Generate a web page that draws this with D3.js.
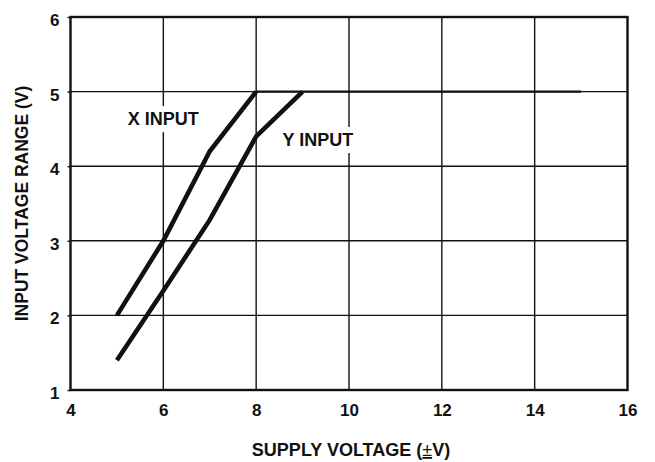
<!DOCTYPE html>
<html>
<head>
<meta charset="utf-8">
<script src="https://cdn.jsdelivr.net/npm/d3@7"></script>
<style>
  html, body { margin: 0; padding: 0; background: #fff; }
  svg { display: block; }
  text { font-family: "Liberation Sans", Arial, Helvetica, sans-serif; font-weight: bold; fill: #111; }
</style>
</head>
<body>
<svg id="chart" width="655" height="462"></svg>
<script>
// Supply voltage (±V) on x, input voltage range (V) on y
const xTicks = [4, 6, 8, 10, 12, 14, 16];
const yTicks = [1, 2, 3, 4, 5, 6];

const xInputSupply = [5, 6, 7, 8];
const xInputRange  = [2.0, 3.0, 4.2, 5.0];

const yInputSupply = [5, 6, 7, 8, 9];
const yInputRange  = [1.4, 2.33, 3.28, 4.4, 5.0];

// common ceiling once both inputs saturate
const limitSupply = [8, 15];
const limitRange  = [5.0, 5.0];

const seriesLabels = [
  { text: "X INPUT", supply: 6.0, range: 4.55 },
  { text: "Y INPUT", supply: 9.33, range: 4.27 }
];

const svg = d3.select("#chart");
const plotLeft = 70.5, plotRight = 627.5, plotTop = 17, plotBottom = 390;

const x = d3.scaleLinear().domain([4, 16]).range([plotLeft, plotRight]);
const y = d3.scaleLinear().domain([1, 6]).range([plotBottom, plotTop]);

// grid
const grid = svg.append("g").attr("stroke", "#111").attr("stroke-width", 1.4);
grid.selectAll("line.v").data(xTicks.slice(1, -1)).join("line")
  .attr("class", "v")
  .attr("x1", d => x(d)).attr("x2", d => x(d))
  .attr("y1", plotTop).attr("y2", plotBottom);
grid.selectAll("line.h").data(yTicks.slice(1, -1)).join("line")
  .attr("class", "h")
  .attr("x1", plotLeft).attr("x2", plotRight)
  .attr("y1", d => y(d)).attr("y2", d => y(d));

// label backgrounds knock out the grid
const labelG = svg.append("g");
seriesLabels.forEach(l => {
  const t = labelG.append("text")
    .attr("x", x(l.supply)).attr("y", y(l.range))
    .attr("text-anchor", "middle")
    .attr("font-size", 18)
    .text(l.text);
  const b = t.node().getBBox();
  labelG.insert("rect", "text")
    .attr("x", b.x - 3).attr("y", b.y - 3)
    .attr("width", b.width + 6).attr("height", b.height + 6)
    .attr("fill", "#fff");
});

// curves
const line = d3.line().x(d => x(d[0])).y(d => y(d[1]));
svg.append("path")
  .datum(limitSupply.map((s, i) => [s, limitRange[i]]))
  .attr("d", line).attr("fill", "none")
  .attr("stroke", "#111").attr("stroke-width", 2.4);
[[xInputSupply, xInputRange], [yInputSupply, yInputRange]].forEach(([s, r]) => {
  svg.append("path")
    .datum(s.map((v, i) => [v, r[i]]))
    .attr("d", line).attr("fill", "none")
    .attr("stroke", "#111").attr("stroke-width", 4.6)
    .attr("stroke-linejoin", "miter");
});

// frame
svg.append("rect")
  .attr("x", plotLeft).attr("y", plotTop)
  .attr("width", plotRight - plotLeft).attr("height", plotBottom - plotTop)
  .attr("fill", "none").attr("stroke", "#111").attr("stroke-width", 2.4);

// axes
const xAxis = svg.append("g")
  .attr("transform", `translate(0,${plotBottom})`)
  .call(d3.axisBottom(x).tickValues(xTicks).tickFormat(d3.format("d")).tickSize(0).tickPadding(14));
xAxis.select(".domain").remove();
xAxis.selectAll("text").attr("font-size", 17).attr("fill", "#111").attr("font-family", null);

const yAxis = svg.append("g")
  .attr("transform", `translate(${plotLeft},0)`)
  .call(d3.axisLeft(y).tickValues(yTicks).tickFormat(d3.format("d")).tickSize(3).tickPadding(8));
yAxis.select(".domain").remove();
yAxis.selectAll("line").attr("stroke", "#111").attr("stroke-width", 1.4);
yAxis.selectAll("text").attr("font-size", 17).attr("fill", "#111").attr("font-family", null)
  .attr("dy", "0.5em");

// axis titles
const xTitle = svg.append("text")
  .attr("x", 351).attr("y", 456)
  .attr("text-anchor", "middle").attr("font-size", 18);
xTitle.append("tspan").text("SUPPLY VOLTAGE (");
xTitle.append("tspan").attr("font-weight", "normal").attr("text-decoration", "underline").text("±");
xTitle.append("tspan").text("V)");

svg.append("text")
  .attr("transform", `translate(28,${(plotTop + plotBottom) / 2}) rotate(-90)`)
  .attr("text-anchor", "middle").attr("font-size", 17.5)
  .text("INPUT VOLTAGE RANGE (V)");
</script>
</body>
</html>
